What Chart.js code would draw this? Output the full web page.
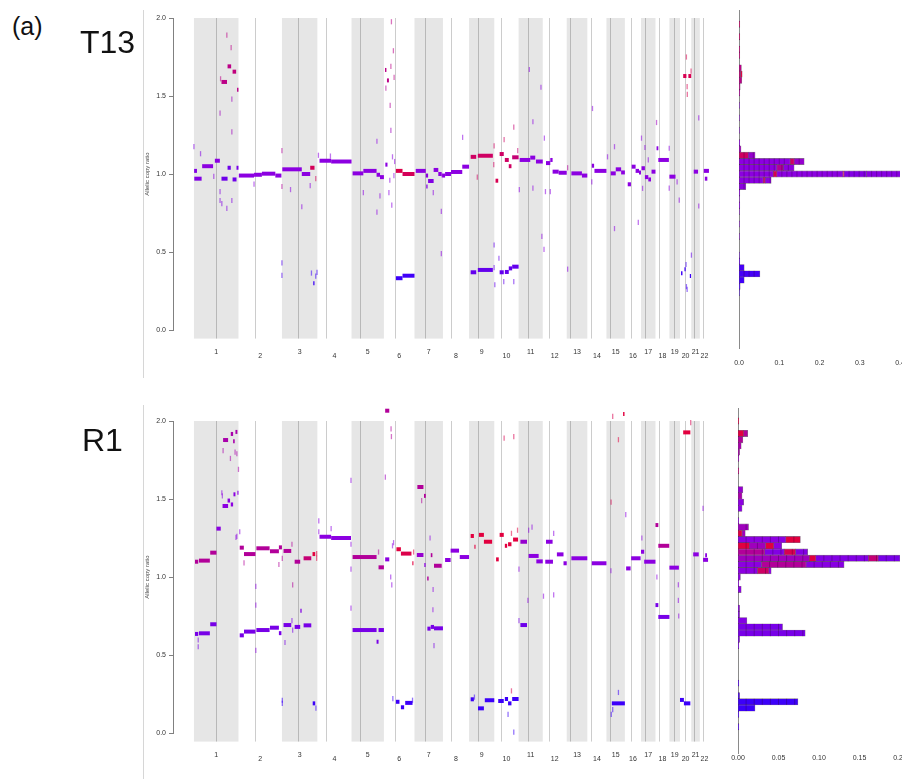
<!DOCTYPE html>
<html>
<head>
<meta charset="utf-8">
<script src="https://cdn.jsdelivr.net/npm/chart.js@4.4.1/dist/chart.umd.min.js"></script>
<style>
	body { margin: 0; background: #fff; font-family: "Liberation Sans", Arial, sans-serif; }
	#page { position: relative; width: 902px; height: 779px; overflow: hidden; }
	canvas { position: absolute; }
	.lbl { position: absolute; color: #111; line-height: 1; white-space: nowrap; }
	.rule { position: absolute; left: 143px; width: 1px; background: #d6d6d6; }
</style>
</head>
<body>
<div id="page">
	<div class="rule" style="top:10px;height:368px"></div>
	<div class="rule" style="top:405px;height:374px"></div>
	<canvas id="mainT13" width="635" height="380" style="left:100px;top:0"></canvas>
	<canvas id="histT13" width="202" height="380" style="left:700px;top:0"></canvas>
	<canvas id="mainR1" width="635" height="384" style="left:100px;top:395px"></canvas>
	<canvas id="histR1" width="202" height="384" style="left:700px;top:395px"></canvas>
	<div class="lbl" style="left:12px;top:14px;font-size:25px">(a)</div>
	<div class="lbl" style="left:80px;top:26px;font-size:32px">T13</div>
	<div class="lbl" style="left:82px;top:424px;font-size:32px">R1</div>
</div>
<script>
// chromosome sizes and centromeres (Mb)
const chromLen = [249, 243, 198, 191, 181, 171, 159, 146, 141, 136, 135, 134, 115, 107, 103, 90, 81, 78, 59, 63, 48, 51];
const centromere = [125, 93, 91, 50, 48, 60, 60, 45, 49, 40, 53, 35, 18, 18, 19, 37, 24, 17, 27, 28, 13, 15];

// segments: [chrom, start Mb, end Mb, allelic copy ratio, blue(0) -> red(1)]
const t13Segments = [
	[1,2,43,0.97,.45],[1,1,17,1.02,.45],[1,46,107,1.05,.5],[1,117,145,1.085,.5],[1,154,188,0.97,.35],
	[1,188,206,1.04,.35],[1,216,238,0.965,.35],[1,238,249,1.04,.4],[1,154,185,1.59,.75],[1,188,208,1.69,.75],
	[1,216,236,1.656,.78],[1,241,249,1.54,.75],
	[2,2,87,0.99,.5],[2,87,131,0.995,.5],[2,131,206,1.002,.5],[2,206,240,0.99,.5],
	[3,2,111,1.03,.5],[3,111,158,1.0,.5],[3,158,182,1.04,.88],[3,175,182,0.30,.1],
	[4,12,77,1.085,.5],[4,77,191,1.08,.5],
	[5,6,66,1.004,.5],[5,66,140,1.02,.5],[5,140,159,0.995,.5],[5,159,181,0.98,.5],
	[6,6,14,1.667,.75],[6,17,28,1.6,.75],[6,8,20,1.06,.5],[6,67,104,1.02,.92],[6,104,171,1.0,.88],
	[6,67,104,0.332,.1],[6,104,171,0.348,.12],
	[7,7,63,1.02,.5],[7,63,76,0.99,.5],[7,66,73,0.92,.45],[7,76,107,0.955,.45],[7,107,133,1.026,.5],
	[7,133,152,1.0,.5],[7,152,159,0.99,.5],
	[8,0,12,0.99,.5],[8,12,45,1.0,.5],[8,45,108,1.013,.5],[8,108,146,1.047,.5],
	[9,9,40,1.11,.85],[9,49,133,1.117,.85],[9,9,40,0.37,.3],[9,49,133,0.385,.3],
	[10,7,22,0.957,.9],[10,30,53,1.128,.85],[10,59,81,1.09,.85],[10,81,96,1.05,.85],[10,100,136,1.107,.8],
	[10,30,53,0.37,.3],[10,59,81,0.372,.3],[10,81,100,0.395,.3],[10,100,136,0.406,.3],
	[11,6,65,1.09,.5],[11,65,93,1.105,.5],[11,97,135,1.08,.5],
	[12,18,42,1.07,.5],[12,42,55,1.09,.5],[12,55,89,1.015,.5],[12,89,134,1.008,.5],
	[13,26,85,1.004,.5],[13,85,115,0.99,.5],
	[14,25,38,1.053,.5],[14,40,107,1.02,.5],
	[15,24,52,1.004,.5],[15,52,82,1.03,.5],[15,82,103,1.01,.5],
	[16,16,34,0.934,.5],[16,38,60,1.047,.5],[16,60,79,1.02,.5],[16,79,90,1.01,.5],
	[17,3,22,1.037,.5],[17,22,41,0.98,.5],[17,41,56,0.965,.5],[17,59,81,1.015,.5],
	[18,6,16,1.165,.5],[18,16,75,1.09,.5],
	[19,0,34,0.983,.5],
	[20,18,36,1.628,.9],[20,47,63,1.628,.9],[20,6,14,0.363,.1],[20,25,32,0.389,.1],[20,55,62,0.346,.1],
	[21,14,38,1.015,.5],
	[22,22,51,1.02,.5],[22,28,42,0.97,.5]
];

// single-probe marks: [chrom, pos Mb, ratio, blue -> red]
const t13Marks = [
	[1,0,1.175,.45],[1,37,1.13,.45],[1,111,0.985,.5],[1,149,1.61,.75],[1,184,1.89,.75],[1,208,1.81,.75],
	[1,146,1.39,.6],[1,212,1.48,.6],[1,212,1.27,.6],[1,146,0.887,.45],[1,146,0.83,.45],[1,156,0.81,.45],
	[1,184,0.78,.45],[1,212,0.83,.45],
	[2,87,0.935,.5],
	[3,0,1.15,.7],[3,0,0.92,.7],[3,0,0.43,.2],[3,0,0.35,.2],[3,48,0.9,.5],[3,111,0.79,.5],[3,158,0.925,.5],
	[3,189,0.97,.88],[3,165,0.365,.1],[3,189,0.345,.1],[3,196,0.37,.1],
	[4,6,1.12,.5],[4,73,1.115,.5],
	[5,66,0.88,.5],[5,142,1.21,.5],[5,142,0.756,.5],[5,159,0.86,.5],
	[6,42,1.976,.75],[6,53,1.79,.75],[6,39,1.69,.75],[6,57,1.62,.75],[6,11,1.55,.7],[6,35,1.44,.7],
	[6,39,1.28,.6],[6,48,1.11,.5],[6,33,0.96,.5],[6,44,0.8,.5],[6,28,0.88,.5],[6,56,0.99,.5],[6,60,1.08,.5],
	[7,105,0.88,.5],[7,150,0.76,.5],[7,150,0.49,.5],
	[8,110,1.235,.5],
	[9,46,0.98,.85],[9,140,1.18,.85],[9,138,1.06,.85],[9,140,0.545,.3],[9,140,0.4,.3],
	[10,3,0.29,.3],[10,55,1.22,.85],[10,109,1.3,.8],[10,26,0.46,.3],[10,53,0.31,.3],[10,109,0.31,.3],[10,131,1.15,.8],
	[11,60,1.67,.5],[11,80,1.335,.5],[11,4,0.9,.5],[11,80,0.91,.5],[11,125,1.556,.5],[11,130,0.6,.5],
	[12,9,1.23,.5],[12,7,0.517,.5],[12,15,0.887,.5],[12,42,0.887,.5],
	[13,5,0.39,.5],[13,5,1.04,.7],
	[14,29,1.42,.5],[14,25,0.95,.5],
	[15,45,0.65,.5],[15,45,1.175,.5],[15,6,1.11,.5],
	[16,75,0.69,.5],
	[17,3,1.23,.5],[17,22,1.17,.5],[17,9,0.908,.5],[17,41,1.09,.5],
	[18,6,1.33,.6],[18,77,1.165,.5],[18,77,0.91,.5],
	[19,55,0.833,.5],[19,43,0.95,.5],
	[20,36,1.75,.9],[20,40,1.56,.9],[20,41,1.51,.9],[20,62,1.66,.9],[20,36,0.278,.15],[20,40,0.26,.15],[20,34,0.42,.15],
	[21,1,0.48,.3],[21,42,1.36,.5],[21,42,0.795,.5]
];

// histogram rows: [bin centre, [[fraction, blue -> red], ...]]
const t13Hist = [
	[1.96,[[0.002,.85]]],[1.88,[[0.002,.85]]],[1.80,[[0.002,.8]]],[1.76,[[0.002,.8]]],
	[1.68,[[0.006,.75]]],[1.64,[[0.004,.8],[0.004,.95]]],[1.60,[[0.007,.75]]],[1.56,[[0.003,.75]]],[1.52,[[0.002,.7]]],
	[1.44,[[0.001,.5]]],[1.36,[[0.001,.5]]],[1.28,[[0.001,.5]]],[1.20,[[0.002,.5]]],[1.16,[[0.005,.6]]],
	[1.12,[[0.023,.85],[0.017,.55]]],
	[1.08,[[0.127,.5],[0.01,.85],[0.025,.55]]],
	[1.04,[[0.094,.5],[0.016,.7],[0.027,.5]]],
	[1.00,[[0.085,.5],[0.009,.9],[0.164,.5],[0.003,.9],[0.056,.45],[0.088,.48]]],
	[0.96,[[0.06,.5],[0.005,.85],[0.015,.5]]],
	[0.92,[[0.017,.5]]],[0.88,[[0.002,.5]]],[0.84,[[0.001,.5]]],[0.80,[[0.002,.5]]],[0.76,[[0.001,.5]]],
	[0.68,[[0.001,.5]]],[0.60,[[0.001,.5]]],[0.48,[[0.001,.35]]],[0.44,[[0.002,.3]]],
	[0.40,[[0.013,.15]]],[0.36,[[0.052,.15]]],[0.32,[[0.013,.12]]],[0.28,[[0.003,.15]]],[0.24,[[0.001,.15]]]
];

const r1Segments = [
	[1,6,24,1.098,.7],[1,28,89,1.105,.7],[1,91,126,1.156,.7],
	[1,6,24,0.635,.4],[1,28,89,0.639,.4],[1,91,126,0.697,.4],
	[1,126,150,1.31,.5],[1,160,191,1.455,.5],[1,188,202,1.49,.5],[1,206,219,1.465,.5],[1,221,232,1.53,.5],[1,243,249,1.54,.5],
	[1,163,191,1.878,.65],[1,206,219,1.917,.65],[1,219,228,1.87,.65],[1,232,243,1.93,.65],
	[2,7,30,1.188,.7],[2,31,95,1.147,.7],[2,100,174,1.184,.7],[2,176,226,1.165,.7],[2,226,243,1.19,.7],
	[2,7,30,0.626,.4],[2,31,95,0.65,.4],[2,100,174,0.66,.4],[2,176,226,0.675,.4],[2,226,240,0.64,.4],
	[3,9,52,1.167,.7],[3,71,102,1.098,.7],[3,121,164,1.12,.8],[3,171,186,1.147,.95],
	[3,9,52,0.692,.4],[3,71,102,0.68,.4],[3,121,164,0.69,.4],[3,103,110,0.784,.45],[3,172,186,0.19,.1],
	[4,12,77,1.258,.5],[4,77,188,1.25,.5],
	[5,6,140,1.128,.7],[5,151,181,1.062,.7],[5,6,140,0.66,.4],[5,151,181,0.66,.4],[5,140,151,0.585,.4],
	[6,7,30,1.113,.5],[6,70,95,1.178,.95],[6,95,154,1.15,.92],[6,159,165,1.088,.95],[6,7,30,2.066,.7],
	[6,67,87,0.2,.1],[6,95,113,0.165,.1],[6,119,160,0.193,.1],
	[7,13,50,1.141,.55],[7,16,50,1.577,.7],[7,53,63,1.52,.7],[7,55,62,1.077,.5],[7,71,79,0.99,.7],
	[7,91,100,1.14,.7],[7,109,152,1.072,.7],
	[7,72,90,0.669,.4],[7,91,109,0.68,.4],[7,109,159,0.671,.4],
	[8,12,43,1.109,.5],[8,43,90,1.169,.5],[8,94,146,1.128,.5],
	[9,9,27,1.263,.95],[9,30,36,1.194,.95],[9,55,83,1.27,.95],[9,83,129,1.226,.95],
	[9,9,27,0.216,.1],[9,50,83,0.158,.1],[9,88,141,0.21,.1],
	[10,10,25,1.113,.95],[10,30,53,1.27,.95],[10,59,72,1.2,.95],[10,77,96,1.21,.95],[10,105,133,1.24,.95],
	[10,22,53,0.205,.1],[10,59,77,0.218,.1],[10,77,96,0.19,.1],[10,100,136,0.218,.1],
	[11,10,47,1.226,.55],[11,56,112,1.135,.5],[11,99,135,1.1,.5],[11,10,47,0.692,.35],
	[12,14,57,1.098,.5],[12,18,55,1.226,.5],[12,79,116,1.145,.5],[12,116,134,1.088,.5],
	[13,26,115,1.12,.5],
	[14,25,107,1.088,.5],
	[15,30,103,0.19,.1],[15,93,101,2.045,.95],
	[16,7,32,1.055,.5],[16,35,88,1.12,.5],
	[17,0,18,1.162,.5],[17,18,81,1.098,.5],
	[18,0,16,1.333,.7],[18,16,77,1.2,.7],[18,0,16,0.82,.4],[18,16,78,0.744,.4],
	[19,0,53,1.06,.5],
	[20,18,58,1.927,.95],[20,0,22,0.212,.1],[20,22,58,0.19,.1],
	[21,11,42,1.145,.5],
	[22,18,46,1.11,.5],[22,30,40,1.14,.5]
];

const r1Marks = [
	[1,24,0.596,.4],[1,24,0.553,.4],[1,159,1.52,.5],[1,235,1.254,.5],[1,163,1.81,.65],[1,204,1.76,.65],
	[1,230,1.8,.65],[1,240,1.79,.65],[1,196,2.077,.65],[1,249,1.69,.65],[1,156,1.54,.5],[1,240,1.26,.5],
	[2,7,1.29,.5],[2,97,0.94,.5],[2,97,0.82,.5],[2,97,0.53,.5],[2,31,1.09,.7],[2,226,1.08,.7],
	[3,56,1.21,.7],[3,2,0.21,.1],[3,2,0.19,.1],[3,17,0.58,.4],[3,56,0.72,.4],[3,60,0.66,.4],[3,194,1.12,.95],
	[3,194,1.15,.95],[3,60,0.95,.7],[3,2,1.12,.7],[3,190,0.16,.1],
	[4,8,1.36,.5],[4,8,1.29,.5],[4,77,1.31,.5],[4,188,1.62,.5],[4,188,1.21,.5],[4,188,0.8,.5],[4,188,1.05,.5],
	[5,151,1.16,.7],
	[6,56,2.04,.7],[6,40,1.95,.7],[6,42,1.9,.7],[6,8,1.64,.6],[6,38,1.0,.5],[6,44,0.95,.5],[6,48,1.2,.5],
	[6,54,1.22,.5],[6,166,1.16,.95],[6,50,0.22,.1],[6,160,0.21,.1],
	[7,40,1.49,.7],[7,87,1.25,.5],[7,104,0.92,.5],[7,103,0.79,.5],[7,109,0.56,.4],
	[9,30,0.23,.1],
	[10,96,1.28,.95],[10,130,1.3,.95],[10,109,1.9,.9],[10,55,1.89,.9],[10,96,0.27,.9],[10,109,0.006,.1],[10,77,0.12,.1],
	[11,56,1.3,.5],[11,75,1.32,.5],[11,52,0.85,.5],[11,2,0.72,.4],[11,2,1.05,.5],
	[12,61,1.28,.5],[12,61,0.885,.5],[12,4,0.877,.5],
	[15,25,1.04,.5],[15,26,1.48,.9],[15,67,1.88,.95],[15,72,2.066,.95],[15,35,2.03,.9],[15,35,0.15,.1],
	[15,67,0.26,.1],[15,27,0.12,.1],
	[16,5,1.4,.5],
	[17,5,1.25,.5],
	[18,8,1.0,.5],
	[19,50,0.95,.5],[19,50,0.85,.5],[19,52,0.75,.5],
	[20,60,1.99,.9],
	[22,18,1.44,.5]
];

const r1Hist = [
	[2.00,[[0.001,.95]]],[1.92,[[0.007,.95],[0.005,.7]]],[1.88,[[0.006,.7]]],[1.84,[[0.004,.65]]],
	[1.80,[[0.002,.65]]],[1.76,[[0.001,.6]]],[1.68,[[0.001,.8]]],
	[1.56,[[0.006,.55]]],[1.52,[[0.005,.65]]],[1.48,[[0.007,.5]]],[1.44,[[0.005,.5]]],[1.36,[[0.001,.5]]],
	[1.32,[[0.013,.6]]],[1.28,[[0.005,.95],[0.004,.6]]],
	[1.24,[[0.059,.5],[0.018,.95]]],
	[1.20,[[0.014,.95],[0.02,.6],[0.01,.95],[0.01,.5]]],
	[1.16,[[0.033,.7],[0.024,.45],[0.014,.9],[0.015,.45]]],
	[1.12,[[0.088,.6],[0.008,.95],[0.065,.45],[0.012,.8],[0.027,.4]]],
	[1.08,[[0.029,.5],[0.055,.7],[0.047,.48]]],
	[1.04,[[0.024,.5],[0.014,.85],[0.003,.5]]],
	[1.00,[[0.003,.5]]],[0.96,[[0.001,.5]]],[0.92,[[0.004,.5]]],[0.80,[[0.002,.5]]],[0.76,[[0.002,.45]]],
	[0.72,[[0.011,.45]]],[0.68,[[0.055,.4]]],[0.64,[[0.083,.4]]],[0.60,[[0.002,.4]]],[0.56,[[0.001,.4]]],
	[0.32,[[0.001,.2]]],[0.24,[[0.002,.15]]],[0.20,[[0.074,.1]]],[0.16,[[0.021,.1]]],[0.12,[[0.001,.15]]],[0.04,[[0.001,.2]]]
];

const ratioTicks = [0, 0.5, 1, 1.5, 2];

Chart.defaults.font.family = '"Liberation Sans", Arial, sans-serif';

const chromStart = [];
chromLen.reduce((acc, len) => { chromStart.push(acc); return acc + len; }, 0);
const genomeLen = chromStart[21] + chromLen[21];

function col(m, a) {
	const stops = [[40, 0, 255], [140, 0, 225], [235, 0, 45]];
	const t = m * 2, i = Math.min(1, Math.floor(t)), f = t - i;
	const c = stops[i].map((v, k) => Math.round(v + (stops[i + 1][k] - v) * f));
	return `rgba(${c[0]},${c[1]},${c[2]},${a})`;
}

// grey chromosome bands, centromere lines and staggered chromosome numbers
const genomeBands = {
	id: 'genomeBands',
	beforeDatasetsDraw(chart) {
		const {ctx, scales: {x, y}} = chart;
		const yTop = y.getPixelForValue(2), yBot = y.getPixelForValue(-0.055);
		ctx.save();
		chromLen.forEach((len, i) => {
			const x0 = x.getPixelForValue(chromStart[i]);
			const x1 = x.getPixelForValue(chromStart[i] + len);
			if (i % 2 === 0) {
				ctx.fillStyle = '#e6e6e6';
				ctx.fillRect(x0, yTop, x1 - x0, yBot - yTop);
			}
			const xc = Math.round(x.getPixelForValue(chromStart[i] + centromere[i])) + 0.5;
			ctx.strokeStyle = 'rgba(0,0,0,0.2)';
			ctx.lineWidth = 1;
			ctx.beginPath();
			ctx.moveTo(xc, yTop);
			ctx.lineTo(xc, yBot);
			ctx.stroke();
		});
		ctx.restore();
	},
	afterDraw(chart) {
		const {ctx, chartArea, scales: {x}} = chart;
		ctx.save();
		ctx.font = '7px "Liberation Sans", Arial, sans-serif';
		ctx.fillStyle = '#333';
		ctx.textAlign = 'center';
		ctx.textBaseline = 'middle';
		chromLen.forEach((len, i) => {
			const xm = x.getPixelForValue(chromStart[i] + len / 2);
			ctx.fillText(String(i + 1), xm, chartArea.bottom + (i % 2 ? 26 : 22));
		});
		ctx.restore();
	}
};

// thin dark dividers inside histogram bars
const histCells = {
	id: 'histCells',
	afterDatasetsDraw(chart, args, opts) {
		const {ctx, scales: {x}} = chart;
		const stepPx = x.getPixelForValue(opts.step) - x.getPixelForValue(0);
		ctx.save();
		ctx.strokeStyle = 'rgba(40,0,45,0.45)';
		ctx.lineWidth = 0.7;
		chart.getSortedVisibleDatasetMetas().forEach(meta => meta.data.forEach(bar => {
			const {x: x1, base, y, height} = bar.getProps(['x', 'base', 'y', 'height'], true);
			ctx.beginPath();
			for (let px = base + stepPx; px < x1 - 1; px += stepPx) {
				ctx.moveTo(px, y - height / 2);
				ctx.lineTo(px, y + height / 2);
			}
			ctx.stroke();
		}));
		ctx.restore();
	}
};

function segPoints(segs) {
	const pts = [];
	segs.forEach(([c, s, e, r, m]) => {
		const g = chromStart[c - 1];
		pts.push({x: g + s, y: r, m}, {x: g + e, y: r, m}, {x: g + e, y: null, m});
	});
	return pts;
}

function mainChart(id, segs, marks, padTop, padBottom) {
	const pts = segPoints(segs);
	const markPts = marks.map(([c, p, r]) => ({x: chromStart[c - 1] + p, y: r}));
	return new Chart(document.getElementById(id), {
		type: 'line',
		data: {
			datasets: [{
				data: pts,
				borderWidth: 4,
				borderCapStyle: 'butt',
				borderColor: col(0.5, 1),
				pointRadius: 0,
				spanGaps: false,
				clip: false,
				segment: {borderColor: ctx => col(pts[ctx.p0DataIndex].m, 1)}
			}, {
				data: markPts,
				showLine: false,
				clip: false,
				pointStyle: 'line',
				pointRotation: 90,
				pointRadius: 2.6,
				pointBorderWidth: 1.3,
				pointBorderColor: marks.map(mk => col(mk[3], 0.55))
			}]
		},
		options: {
			responsive: false,
			animation: false,
			events: [],
			layout: {padding: {left: 40, right: 3, top: padTop, bottom: padBottom}},
			plugins: {legend: {display: false}, tooltip: {enabled: false}},
			scales: {
				x: {type: 'linear', display: false, min: -117, max: genomeLen + 116},
				y: {
					min: 0, max: 2,
					afterBuildTicks: s => { s.ticks = ratioTicks.map(v => ({value: v})); },
					afterFit: s => { s.width = 33; s.paddingTop = 0; s.paddingBottom = 0; },
					ticks: {callback: v => v.toFixed(1), font: {size: 7}, color: '#333', padding: 3},
					grid: {drawOnChartArea: false, drawTicks: true, tickLength: 4, color: '#808080'},
					border: {color: '#808080'},
					title: {display: true, text: 'Allelic copy ratio', font: {size: 6}, color: '#444'}
				}
			}
		},
		plugins: [genomeBands]
	});
}

function histChart(id, rows, xMax, xStep, decimals, yMin, yMax, pad, tickPad, cell) {
	const n = Math.max(...rows.map(r => r[1].length));
	const datasets = [];
	for (let k = 0; k < n; k++) {
		const data = [], bg = [];
		rows.forEach(r => {
			if (r[1][k]) {
				data.push({x: r[1][k][0], y: r[0]});
				bg.push(col(r[1][k][1], 1));
			}
		});
		datasets.push({
			data, backgroundColor: bg,
			borderColor: 'rgba(40,0,45,0.55)', borderWidth: 0.6, borderSkipped: false,
			barPercentage: 1, categoryPercentage: 1
		});
	}
	return new Chart(document.getElementById(id), {
		type: 'bar',
		data: {datasets},
		options: {
			indexAxis: 'y',
			responsive: false,
			animation: false,
			events: [],
			layout: {padding: pad},
			plugins: {legend: {display: false}, tooltip: {enabled: false}, histCells: {step: cell}},
			scales: {
				y: {
					type: 'linear', stacked: true, offset: false, bounds: 'data', min: yMin, max: yMax,
					ticks: {display: false},
					grid: {display: false, offset: false},
					border: {display: true, color: '#8a8a8a', width: 1},
					afterFit: s => { s.width = 0; s.paddingTop = 0; s.paddingBottom = 0; }
				},
				x: {
					type: 'linear', stacked: true, min: 0, max: xMax,
					ticks: {stepSize: xStep, autoSkip: false, maxRotation: 0, callback: v => v.toFixed(decimals),
						font: {size: 7}, color: '#333', padding: tickPad},
					grid: {display: false, drawTicks: false},
					border: {display: false},
					afterFit: s => { s.height = 22; s.paddingLeft = 0; s.paddingRight = 0; }
				}
			}
		},
		plugins: [histCells]
	});
}

mainChart('mainT13', t13Segments, t13Marks, 18, 50);
mainChart('mainR1', r1Segments, r1Marks, 26, 46);
histChart('histT13', t13Hist, 0.4, 0.1, 1, -0.115, 2.051, {left: 39, right: 2, top: 10, bottom: 10}, 11, 0.0125);
histChart('histR1', r1Hist, 0.2, 0.05, 2, -0.128, 2.083, {left: 38, right: 2, top: 13, bottom: 4}, 1, 0.01);
</script>
</body>
</html>
